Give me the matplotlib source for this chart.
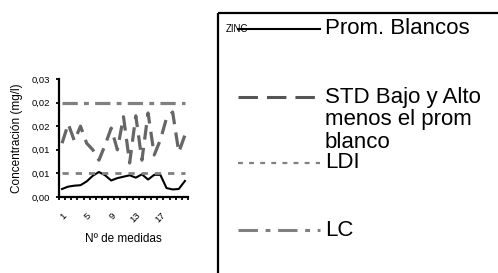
import matplotlib
matplotlib.use("Agg")
import matplotlib.pyplot as plt
from matplotlib.lines import Line2D
from matplotlib.patches import Rectangle
from matplotlib.transforms import ScaledTranslation

plt.rcParams['font.family'] = ['Liberation Sans', 'DejaVu Sans']
plt.rcParams['lines.scale_dashes'] = False

# data
medidas = list(range(1, 22))
prom_blancos = [0.0017, 0.0022, 0.0024, 0.0025, 0.0033, 0.0045, 0.0053, 0.0046,
                0.0035, 0.0040, 0.0043, 0.0046, 0.0041, 0.0048, 0.0037, 0.0047,
                0.0047, 0.0019, 0.0016, 0.0017, 0.0034]
std_bajo_alto = [0.0114, 0.0155, 0.0119, 0.0150, 0.0114, 0.0100, 0.0078, 0.0110,
                 0.0146, 0.0100, 0.0170, 0.0072, 0.0172, 0.0078, 0.0178, 0.0089,
                 0.0121, 0.0167, 0.0180, 0.0095, 0.0131]
ldi = 0.005
lc = 0.02
yticks = [0.0, 0.005, 0.01, 0.015, 0.02, 0.025]
ytick_labels = ["0,00", "0,01", "0,01", "0,02", "0,02", "0,03"]
xtick_shown = [1, 5, 9, 13, 17]
legend_labels = ["Prom. Blancos", "STD Bajo y Alto\nmenos el prom\nblanco", "LDI", "LC"]

W, H = 498, 273
fig = plt.figure(figsize=(W / 100, H / 100), dpi=100)
ax = fig.add_axes([59 / W, 1 - 197 / H, 129 / W, 118 / H])

gris = '#808080'
ax.plot(medidas, prom_blancos, color='black', lw=1.5, solid_joinstyle='round')
ax.plot(medidas, std_bajo_alto, color='#666666', lw=2.3, dashes=(10.5, 6))
ax.plot(medidas, [ldi] * len(medidas), color=gris, lw=2.0, dashes=(4.5, 5))
ax.plot(medidas, [lc] * len(medidas), color=gris, lw=2.3, dashes=(11, 4.5, 3.5, 4.5))

ax.set_xlim(0.5, len(medidas) + 0.5)
ax.set_ylim(0, 0.025)
ax.set_yticks(yticks)
ax.set_yticklabels(ytick_labels)
ax.set_xticks([m - 0.5 for m in medidas] + [len(medidas) + 0.5])
ax.set_xticklabels([])
ax.set_xticks(xtick_shown, minor=True)
ax.set_xticklabels([str(m) for m in xtick_shown], minor=True, rotation=45,
                   ha='right', va='top', rotation_mode='anchor')
shift = ScaledTranslation(-4 / 100, 0, fig.dpi_scale_trans)
for lbl in ax.get_xticklabels(minor=True):
    lbl.set_transform(lbl.get_transform() + shift)
ax.tick_params(axis='x', which='major', direction='out', length=2.5, width=1.3)
ax.tick_params(axis='x', which='minor', length=0, pad=10, labelsize=6.8)
ax.tick_params(axis='y', direction='out', length=2.5, width=1.3, pad=4, labelsize=6.8)

for s in ['top', 'right']:
    ax.spines[s].set_visible(False)
for s in ['left', 'bottom']:
    ax.spines[s].set_linewidth(1.6)

ax.set_ylabel('Concentración (mg/l)', fontsize=8.5, labelpad=6)
ax.set_xlabel('Nº de medidas', fontsize=8.5, labelpad=6)

# legend area (box runs off the picture)
lax = fig.add_axes([0, 0, 1, 1])
lax.set_xlim(0, W)
lax.set_ylim(H, 0)
lax.axis('off')
lax.add_patch(Rectangle((217.5, 13), 400, 400, fill=False, lw=1.6, ec='black'))
lax.text(226, 29, 'ZINC', fontsize=7, va='center', ha='left')

handles = [
    dict(color='black', lw=1.5, dashes=()),
    dict(color='#555555', lw=2.2, dashes=(14, 6.5)),
    dict(color=gris, lw=1.6, dashes=(3.5, 4.5)),
    dict(color=gris, lw=2.2, dashes=(14, 5.5, 3.5, 5.5)),
]
rows = [28.5, 97, 163, 230]
for y, lab, st in zip(rows, legend_labels, handles):
    d = st.pop('dashes')
    ln = Line2D([238, 320], [y, y], **st)
    if d:
        ln.set_dashes(d)
    lax.add_line(ln)
    lax.text(325, y - 10.5, lab, fontsize=16, va='top', ha='left', linespacing=1.12)

fig.savefig('out.png', dpi=100)
